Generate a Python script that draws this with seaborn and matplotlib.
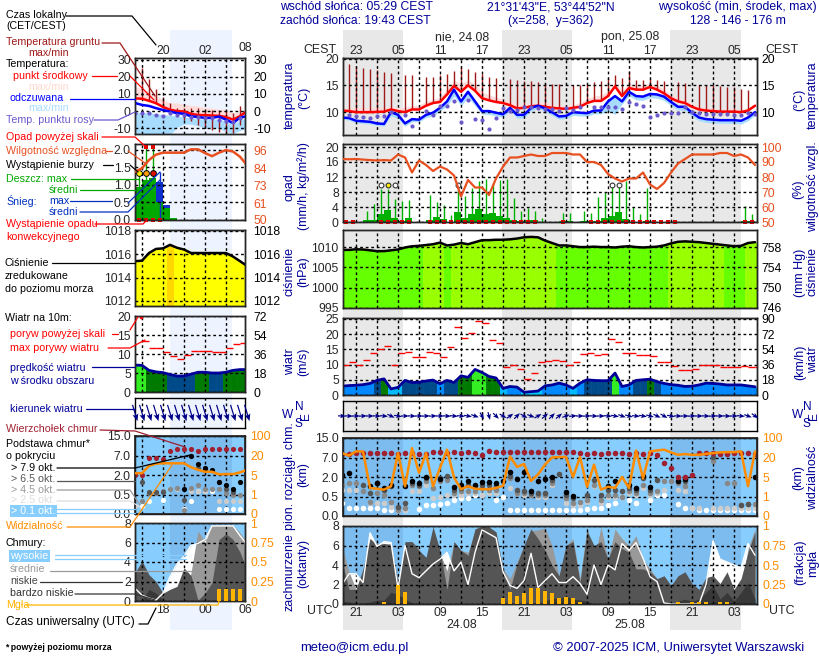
#!/usr/bin/env python3
"""UM meteogram (ICM) recreated with seaborn line and scatter layers."""

import matplotlib
matplotlib.use("Agg")
import matplotlib.pyplot as plt
import numpy as np
import seaborn as sns

n = np.nan

# hours are UTC counted from 00 on 23.08
HOURS_L = np.arange(14, 31)
HOURS_R = np.arange(19, 79)
NIGHT_L = [(19.0, 27.86)]
NIGHT_R = [(19.14, 27.71), (41.85, 51.85), (65.85, 76.0)]

# right column, temperature
RED_MID = [10.3, 10.2, 10.0, 10.0, 10.0, 10.05, 10.1, 10.5, 10.2, 10.0, 10.5, 10.5, 11.2, 11.7, 11.9,
           13.3, 14.9, 13.8, 15.0, 14.0, 12.6, 12.2, 11.9, 11.7, 11.3, 10.7, 10.8, 11.1, 11.2, 11.0,
           10.8, 10.7, 10.6, 10.8, 11.0, 11.7, 12.1, 12.1, 13.0, 14.8, 13.0, 14.5, 14.2, 14.2, 14.7,
           14.2, 13.5, 12.6, 12.0, 11.7, 11.0, 10.5, 10.3, 10.2, 10.1, 10.1, 10.1, 10.0, 10.3, 11.2]
FELT = [9.0, 8.9, 8.4, 8.3, 8.2, 7.9, 7.8, 10.0, 9.5, 7.9, 8.7, 8.6, 9.5, 9.9, 10.8,
        12.0, 14.2, 12.0, 13.8, 12.0, 10.2, 10.2, 9.9, 9.6, 10.8, 9.5, 9.5, 10.8, 11.2, 10.7,
        10.0, 9.2, 9.3, 10.0, 9.9, 9.8, 10.3, 10.3, 12.0, 13.0, 12.0, 13.8, 13.0, 12.9, 13.4,
        13.3, 12.9, 11.9, 11.0, 11.0, 9.9, 9.0, 8.7, 8.6, 8.5, 8.5, 8.5, 8.4, 9.0, 10.0]
RED_TOP = [10.8, 10.8, 10.8, 10.8, 10.8, 10.9, 10.9, 11.0, 10.9, 10.9, 11.2, 11.3, 12.0, 12.4, 12.8,
           14.4, 15.9, 15.3, 16.0, 15.2, 13.8, 13.2, 12.8, 12.4, 12.0, 11.4, 11.4, 11.6, 11.8, 11.8,
           11.4, 11.3, 11.2, 11.4, 11.8, 12.5, 13.0, 13.2, 14.0, 15.5, 14.0, 15.4, 15.0, 15.0, 15.4,
           15.0, 14.3, 13.3, 12.6, 12.3, 11.6, 11.1, 10.8, 10.7, 10.6, 10.6, 10.6, 10.5, 10.8, 11.6]
FELT_LOW = [8.7, 8.5, 8.0, 7.9, 7.8, 7.5, 7.4, 9.3, 8.8, 7.4, 8.2, 8.2, 9.0, 9.3, 10.2,
            11.2, 13.0, 11.2, 12.8, 11.2, 9.6, 9.6, 9.3, 9.1, 10.2, 8.9, 8.9, 10.2, 10.7, 10.1,
            9.4, 8.7, 8.8, 9.4, 9.3, 9.2, 9.7, 9.7, 10.2, 9.6, 11.5, 13.0, 12.3, 12.2, 12.7,
            12.6, 12.2, 11.2, 10.4, 10.3, 9.2, 8.4, 8.1, 8.0, 7.9, 7.9, 7.9, 7.8, 8.4, 9.4]
GROUND_MAX = [n, 19, 18.6, 18.2, 18, 17.8, 17.5, 17.3, n, 17, 17, n, 16.6, 16.6, 16.9,
              17.1, 17.6, 18.4, 18, 17.4, 17.1, 16.6, 16.4, n, 16.2, 16, 15.9, 15.8, 15.7, 15.5,
              15.3, 15.3, n, 15.1, 15.1, 15.2, 15.6, 15.9, 16.4, 17, 16.3, 17.6, 16, 16, 16.1,
              16, 15.8, n, 15.6, 15.4, n, 15.1, 15, 15, 14.8, 14.7, 14.6, 14.4, 14.2, n]
DEW = [n, 9.5, 9.2, 9.1, 8.9, 9.2, 9.3, 10.1, n, 9.4, 7.5, n, 10.3, 9.4, 11.2,
       11.1, 12, 8.2, 12.2, 8.8, 8.5, 6.8, 9, 10.7, 10.3, 10.4, 10.9, 10.9, 10.7, 10.5,
       10.5, 10.3, 10.7, 10.4, 10.9, n, 11, 11, 10.9, 10.9, 10.5, 11.9, 11.6, 11.2, 9.1,
       9.4, 9.8, 9.8, 9.8, 10.9, 10.1, 9.8, 9.7, 9.6, 9.6, 9.6, 9.5, 9.4, 9.8, 9.6]

# right column, rain and humidity
HUMID = [92, 91.8, 92, 91.6, 91.3, 91, 91.3, 91, 95, 93, 83, 91, 88, 84, 87,
         85, 81, 67, 78, 73, 73, 68, 79, 87, 93, 93, 94, 95, 94, 94,
         96, 96, 96, 95, 95, 90, 90, 88, 82, 79, 77, 79, 79, 83, 75,
         72, 76, 83, 89, 92, 95, 95, 95, 95, 96, 96, 94, 95, 93, 88]
RAIN_MAX = [0, 0, 0, 2.9, 4.7, 8.7, 8.9, 6.2, 5.7, 6, 0, 0, 7.3, 5.3, 4.6,
            2, 8.8, 7, 9, 11, 11.5, 10.5, 11.2, 11.5, 6.4, 3, 3.7, 3, 1.2, 0,
            0, 2.3, 2.5, 0, 3, 2.3, 6.8, 8, 9.5, 9.4, 11, 4, 2.2, 9, 0.4,
            0.3, 0, 0, 0, 0, 0, 0, 0, 0, 0, 0, 0, 4.4, 2.2, 0]
RAIN_MEAN = [0, 0, 0, 0.5, 0.5, 2.2, 3.2, 1, 0.3, 1.1, 0, 0, 0.5, 1.4, 0.8,
             0.1, 2.8, 1, 2.2, 3.6, 2.2, 2.5, 1.7, 1, 0.6, 0.3, 0.6, 0.6, 0.1, 0,
             0, 0.2, 0.3, 0, 0.3, 0.4, 0.2, 1, 1.5, 2.8, 0.8, 0.1, 0.1, 0.2, 0,
             0, 0, 0, 0, 0, 0, 0, 0, 0, 0, 0, 0, 0.3, 0.3, 0]
CONV_HOURS = [19, 20, 24, 25, 26, 27, 28, 31, 32, 33, 34, 35, 36, 37, 38, 39, 40, 41, 42, 43, 44, 45, 46,
              50, 54, 55, 56, 57, 58, 59, 60, 61, 62, 63, 64, 65, 66, 76, 77]
STORM_HOURS = [24, 26, 35, 57, 58]
STORM_HOURS_STRONG = [25]

# right column, pressure, wind
PRESSURE = [1009.3, 1009.3, 1009.45, 1009.4, 1009.2, 1009, 1009, 1009.2, 1009.4, 1009.9, 1010.2, 1010.3, 1010.5, 1010.7, 1011.1,
            1010.4, 1010.6, 1011, 1010.7, 1011.2, 1011.7, 1011.7, 1011.8, 1011.8, 1011.9, 1012.1, 1012.4, 1012.5, 1012.4, 1011.6,
            1011, 1010.4, 1010.4, 1010.2, 1010, 1010, 1010.1, 1010, 1010, 1009.9, 1010.1, 1010.2, 1010, 1009.9, 1010,
            1010.1, 1010.4, 1010.9, 1011.3, 1011.4, 1011.3, 1011.2, 1011, 1010.8, 1010.6, 1010.4, 1010.2, 1010.3, 1011, 1011.2]
WIND = [2.9, 3.1, 3.2, 3.4, 3.8, 4.8, 5.3, 2, 2.5, 4.8, 4.1, 4.2, 4.6, 4.9, 3.7,
        4.8, 4.1, 6.3, 5.8, 8.4, 7.4, 6.1, 5.6, 2.2, 2.8, 2.6, 0.9, 1.1, 1.3, 3,
        3.3, 3.9, 3.3, 2.2, 3.9, 5, 4.8, 4.7, 4.7, 7.2, 2.8, 3.3, 4.8, 5, 5.2,
        4.4, 3.8, 3.4, 3.2, 2.8, 2.9, 3.3, 3.9, 3.8, 3.6, 3.3, 3.3, 3.3, 3, 2.7]
GUST = [10, 10.7, 10, 11.4, 13.7, 15, 16, 9.8, 13.8, 14.1, 12.4, 12.4, 14.1, 13.7, 12.4,
        15.8, 22.3, 18.6, 20.3, 24.2, 23.5, 18.1, 17.2, 9.1, 9.8, 8.4, 5.4, 7.1, 10.7, 11.1,
        11.5, 11.3, 10, 10.8, 13.4, 13.7, 13, 13.4, 18.4, 17.3, 13.9, 13.9, 13, 13, 12.7,
        10.8, 10.8, 9.4, 8.1, 8.1, 8.4, 9.8, 10, 9.7, 9.2, 9.2, 9.2, 9.5, 9.2, 9.2]
WIND_DIR = [92, 92, 90, 88, 90, 92, 95, 115, 100, 90, 92, 90, 88, 88, 90,
            92, 95, 95, 100, 110, 150, 165, 135, 120, 55, 45, 120, 110, 60, 50,
            45, 50, 70, 85, 90, 88, 92, 90, 95, 100, 110, 105, 95, 100, 105,
            115, 120, 100, 92, 90, 88, 90, 92, 88, 90, 92, 90, 95, 110, 125]

# right column, cloud base / top in km, visibility in km
TOPS = [8.5, 8.6, 8.9, 8.7, 8.9, 8.9, 8.8, 8.7, 8.6, 8.7, 8.8, 8.6, 8.6, 9.1, 9.1,
        9, 9.1, 9, 9.1, 8.8, 8, 9.6, 9.3, 9.3, 9.3, 9.3, 9.3, 9.3, 9.3, 9.3,
        9.2, 9.3, 9.3, 9.1, 9, 8.3, 8.7, 8.6, 8.8, 8.8, 8.8, 8.6, 8.7, 8.6, 8.7,
        8, 5.6, 4.3, 2, 2, 2.4, 8.7, 9, 8.8, 8.6, 8.5, 8.7, 8.7, 8.7, 8.6]
BASE_79 = [2.5, 3, n, n, 1.3, 1.55, 1.15, 1.4, n, 1.3, 1.7, 1.55, 2, n, 1.85,
           n, 1.2, 1.4, 1.7, 1.4, 1.6, 1.6, 1.55, 1.7, 3.3, 1.85, 3.3, 0.9, 1.7, 1.85,
           2, n, 0.85, 0.55, n, n, n, n, 1.3, 1.68, n, 1.42, 1.16, 2.2, 1.2,
           n, n, n, 1.68, 1.85, n, n, n, n, n, n, n, n, n, 2]
BASE_65 = [n, n, n, 1.42, 0.76, 1.55, 1.03, 1.3, 0.24, 0.33, 1.55, 1.42, 1.95, n, 1.95,
           2.2, 1.03, 1.16, 1.42, 1.3, 1.42, 1.42, 1.3, n, 2.2, 1.03, 0.9, 0.76, 0.76, 0.76,
           1.8, 2.8, 0.63, 0.46, n, 0.63, 1.8, 0.63, 1.03, 1.03, 0.9, 1.16, 1.03, 1.95, 1.03,
           1.8, n, n, 1.68, 1.68, n, n, n, 7.4, n, n, n, 0.28, 0.3, n]
BASE_45 = [1.4, 1.55, 1.55, 0.9, 0.37, 0.76, 0.63, 0.37, 0.16, 0.2, 1.42, 1.3, 1.68, 1.16, 1.68,
           1.8, 0.76, 0.9, 0.9, 0.9, 1.16, 1.03, 1.03, n, 1.95, 0.76, 0.76, 0.63, 0.63, 0.63,
           1.55, n, 0.46, 0.33, 0.37, 0.42, 1.42, 0.42, 0.63, 0.63, 0.5, 0.9, 0.76, 1.42, 0.76,
           0.9, 1.68, 1.68, 1.55, 1.3, n, n, n, 6, n, 1.55, 1.55, 0.28, 0.3, 0.3]
BASE_25 = [1, 1, 1, n, 0.33, 0.33, 0.33, 0.24, 0.16, 0.16, 0.9, 0.9, 1.42, 0.46, 0.5,
           0.63, 0.63, 0.63, 0.76, 0.76, 0.63, 0.76, 0.76, n, 1.16, 0.76, 0.63, 0.63, 0.5, 0.5,
           1.4, n, 0.33, 0.28, 0.28, 0.37, 1.3, 0.33, 0.5, 0.5, 0.5, 0.76, 0.63, 1.16, 0.63,
           0.76, 1, n, 1, 0.9, 0.2, 0.2, n, 0.2, 0.2, 0.2, 0.2, 0.2, 0.2, 0.2]
BASE_01 = [0.33, 0.2, 0.2, 0.2, 0.2, 0.2, 0.16, 0.16, 0.16, 0.16, n, 0.18, 0.28, 0.28, 0.31,
           0.33, 0.42, 0.45, 0.45, 0.63, 0.63, 0.9, 0.4, 0.5, 0.16, 0.16, 0.16, 0.16, 0.16, 0.16,
           0.16, 0.16, 0.16, 0.16, 0.16, 0.18, 0.2, 0.2, 0.28, 0.33, 0.5, 0.42, 0.33, n, 0.4,
           0.63, 0.65, n, 0.3, 0.2, 0.2, 0.16, 0.16, 0.16, 0.16, 0.16, 0.16, 0.16, 0.16, 0.16]
VISIBILITY = [38, 28, 45, 45, 2.75, 2.6, 2.4, 3.1, 38, 3.1, 58, 8.25, 38, 3.1, 12,
              52, 4.9, 2.5, 3.1, 2.6, 2.5, 2.5, 2.75, 3.2, 24, 12.75, 15, 4.2, 7, 14.5,
              20, 22, 22, 5, 22, 3, 14.5, 2.4, 3, 2.75, 5, 2.75, 49, 4.7, 45,
              49, 52, 41, 31, 34, 31, 31, 35, 38, 41, 42, 42, 45, 3.1, 45]

# right column, cloud cover in octas and fog fraction
HIGH = [2, 3.1, 3.1, 2.2, 7.3, 5.9, 6.4, 6.3, 1.6, 6, 3.1, 2.7, 3.4, 4.1, 4.6,
        5.3, 3.4, 4.3, 2, 5.3, 7.6, 7.2, 6.8, 3.3, 1.9, 1.6, 2.4, 5.2, 1.7, 2.4,
        3.1, 2.2, 2.2, 2.8, 2.1, 1, 4, 2, 4, 3.5, 6.2, 5.5, 6.3, 4.7, 2.8,
        2.3, 0.1, 0, 0, 0, 0, 0, 2, 6.5, 4.6, 4.3, 4, 3.7, 6.2, 5]
MEDIUM = [5.9, 3.3, 1.5, 3.3, 6.7, 6.2, 6.2, 6.2, 2.2, 6.2, 6.4, 5.7, 3.6, 7.9, 5.2,
          3.4, 6.4, 5.5, 5.3, 7.5, 8, 8, 6.7, 3.6, 2.6, 4.3, 6, 7.5, 7.6, 7.8,
          6, 2.9, 6, 6.7, 2.6, 7.9, 4.6, 7.9, 4.6, 7.7, 6.7, 6, 7, 4.6, 3.6,
          2.6, 0.2, 0, 0, 0, 0, 0, 0, 0, 0, 0, 0, 1.5, 5.7, 7.7]
LOW = [4.3, 1.5, 1.5, 3.6, 6.7, 6, 6.2, 6, 2.2, 6.4, 6.4, 5.5, 4.8, 7.9, 5.5,
       1.5, 6.4, 5.5, 5, 7.7, 8, 7.9, 7.4, 3.6, 1.5, 4.1, 6, 7.7, 6.7, 5.5,
       4, 2.9, 6, 6.4, 2.2, 7.5, 6, 6.4, 4.6, 6.4, 5.7, 5.3, 3.6, 3.6, 3.3,
       2.6, 2.9, 1.9, 2.9, 3.3, 2.1, 1.5, 2.7, 2.9, 2.1, 3.3, 1.5, 2.6, 5.3, 7.4]
VERY_LOW = [0.3, 0.2, 0.1, 0.1, 0.2, 0.4, 0.4, 1.2, 1, 0.5, 0.1, 0, 0, 0, 0,
            0, 0, 0, 0, 0, 0, 0, 0, 0, 0, 0, 0, 0, 0, 0.3,
            0.6, 0.6, 0.8, 0.5, 0.4, 0.3, 0, 0, 0, 0, 0, 0, 0, 0, 0,
            0, 0, 0, 0.3, 0.5, 0.3, 0.5, 1.2, 1.9, 0.5, 1.2, 0.3, 1.2, 2.2, 0.5]
FOG = [0, 0, 0, 0, 0, 0, 0.03, 0, 0.24, 0.15, 0, 0, 0, 0, 0,
       0, 0, 0, 0, 0, 0, 0, 0, 0.08, 0.15, 0.1, 0.14, 0.21, 0.21, 0.17,
       0.14, 0.08, 0.09, 0.08, 0.03, 0, 0, 0, 0, 0, 0, 0, 0, 0, 0,
       0, 0, 0, 0.02, 0, 0.03, 0.03, 0.02, 0, 0.02, 0.02, 0, 0, 0, 0]

# left column
RED_MID_L = [7.4, 7.2, 6, 4.6, 2.4, 0.8, 0, -0.3, -1.6, -2.3, -2.4, -2.6, -2.8, -3.5, -5, -3, 0]
FELT_L = [4.7, 3.6, 3, 1.7, 0.6, -0.3, -1.2, -1.6, -3, -3.5, -4, -4, -3.2, -5, -7, -3.8, -3]
RED_TOP_L = [14.3, 13, 11.3, 8.7, 6.8, 4.8, 4.8, 4, 3.4, 3, 2, 1.7, 1, 1, -1, -0.6, 0]
FELT_TOP_L = [-0.5, -1, -1, -1.5, -2, -2.5, -3, -3.5, -4, -4.5, -5, -5, -5, -6, -8, -5, -4]
FELT_LOW_L = [-14, -14, -14, -14, -14, -14, -9.5, -7.6, -7.6, -8.6, -10, -10, -10, -12, -13, -11.4, -10]
GROUND_MAX_L = [n, 25, 19, 13, 8, 5, 2, 2, 2, 1.5, 0.5, 0.5, 0.5, 0, -1.3, 3, n]
GROUND_MIN_L = [n, 7, 6, 4, 2, -1, -2, -5, -6, -8, -10, -11, -12, -13, -13, -8, n]
DEW_L = [-1.4, -1.4, -1.4, -2.4, -3, -1.4, -2.4, -2.4, -3.3, -3.7, -4.3, -4.3, -5.2, -5.6, -6.2, -4.3, n]
HUMID_L = [81.8, 84, 89.5, 93, 94.3, 94.3, 94.3, 94.3, 96.5, 96.5, 94, 92, 94.3, 96, 95, 91.6, 86]
RAIN_MEAN_L = [0.95, 1.15, 1.2, 0.52, 0.33, 0.05, 0, 0, 0, 0, 0, 0, 0, 0, 0, 0, 0]
SNOW_MEAN_L = [0, 0, 0, 1.09, 0.43, 0, 0, 0, 0, 0, 0, 0, 0, 0, 0, 0, 0]
RAIN_MAX_L = [1.33, 2.2, 2.2, n, n, n, n, n, n, n, n, n, n, n, n, n, n]
SNOW_MAX_L = [n, n, n, 1.38, n, n, n, n, n, n, n, n, n, n, n, n, n]
OVER_SCALE_L = [14, 15, 16]
PRESSURE_L = [1015.4, 1015.45, 1016.1, 1016.45, 1016.5, 1016.8, 1016.55, 1016.4, 1016.1, 1016.1, 1016.1, 1016.1, 1016.1, 1016.1,
              1015.8, 1015.4, 1015.0]
WIND_L = [7.1, 7, 5.7, 5.3, 5.1, 4.6, 4.2, 4.2, 4.7, 5.2, 5.2, 5, 5, 5.2, 5.7, 5.9, 5.9]
GUST_L = [n, 13.5, 11.7, 11.5, 10.6, 9.6, 8.8, 9.8, 10.8, 10.9, 10.8, 10.6, 10.6, 11.6, 12.7, 13, n]
WIND_DIR_L = [163, 163, 163, 163, 163, 163, 163, 163, 163, 163, 163, 163, 163, 163, 163, 163, 163]
TOPS_L = [2, 2, 6.4, 6.4, 6, 8.8, 9.7, 9.7, 9.7, 8.8, 9.7, 9.7, 9.7, 9.7, 9.7, 9.7, 9.7]
BASE_79_L = [n, n, n, n, n, n, n, 0.9, 7, 4.7, 3.9, 3.3, 1.5, 1.25, 0.9, 1.5, n]
BASE_65_L = [n, 1.5, 0.7, 0.7, 0.7, n, n, 0.36, n, 3.8, 3.4, n, 1.5, 0.9, 0.7, n, n]
BASE_45_L = [n, 0.33, 0.6, 0.6, 0.8, 0.9, 1, 0.1, 1, 1.2, 0.9, 0.9, 0.9, 0.6, 0.5, 0.5, 0.9]
BASE_25_L = [0.2, n, n, n, n, 0.9, 0.9, n, 0.8, 0.8, 0.8, n, 0.33, 0.33, 0.33, 0.33, n]
BASE_01_L = [n, 0.2, 0.33, n, 0.36, n, n, 0.12, 0.33, 0.8, 0.8, 0.8, 0.12, 0.12, 0.12, 0.12, n]
VISIBILITY_L = [6.4, 6.4, 12, 13.7, 14, 14, 14, 14, 11, 9, 7.5, 7.5, 5.5, 5.7, 5.7, 7, 9]
HIGH_L = [1.3, 0.6, 0.3, 0.1, 0.8, 2.5, 3.8, 4.6, 5.7, 5.9, 6.3, 7.7, 7.7, 7.7, 7.7, 6.7, 5.8]
MEDIUM_L = [0, 0, 0, 0, 0, 0, 0, 0, 2.9, 7.2, 6, 7.8, 7.8, 7.8, 7.8, 7, 6]
LOW_L = [2.9, 4.1, 2.7, 2, 0.8, 1.2, 1.5, 3.4, 2.6, 0.1, 0.8, 1.9, 6.3, 6.9, 6.3, 5, 3.2]
VERY_LOW_L = [0, 0.1, 1.2, 0.8, 0.1, 0, 0, 0, 0, 0, 0, 0, 0, 0, 0, 0, 0]
FOG_L = [0, 0, 0, 0, 0, 0, 0, 0, 0, 0, 0, 0, 0.15, 0.15, 0.15, 0.15, 0]

NAVY = "#000099"
HUMID_COL = "#E85020"
VIS_COL = "#FF8C00"
SKY = "#87CEFF"
SKY_NIGHT = "#7CBCEE"
BASE_TICKS = [0, 0.5, 2, 7, 15]
VIS_TICKS = [0, 1, 5, 20, 100]
TICK_ROWS = [0, 1, 2, 3, 4]
TICK_SIZE = 8.7


def panel(fig, left, top, width, height):
    ax = fig.add_axes([left / 820, 1 - (top + height) / 660, width / 820, height / 660])
    ax.patch.set_alpha(0)
    for side in ax.spines.values():
        side.set_linewidth(1.0)
        side.set_color("black")
    ax.set_axisbelow(False)
    return ax


def set_grid(ax, xlim, hours, yticks, left_pad, ylabels=None):
    ax.set_xlim(*xlim)
    ax.set_xticks(hours)
    ax.set_xticklabels([])
    ax.set_yticks(yticks)
    if ylabels is not None:
        ax.set_yticklabels(ylabels)
    ax.grid(True, color="black", linestyle=(0, (2, 2)), linewidth=1.0)
    ax.tick_params(length=0, pad=left_pad, labelsize=TICK_SIZE)


def right_axis(ax, ylim, ticks, labels, color="black", pad=4):
    tw = ax.twinx()
    tw.patch.set_alpha(0)
    tw.set_ylim(*ylim)
    tw.set_yticks(ticks)
    tw.set_yticklabels(labels, color=color)
    tw.tick_params(length=0, pad=pad, labelsize=TICK_SIZE)
    for side in tw.spines.values():
        side.set_linewidth(1.0)
    return tw


def line(ax, x, y, color, width, z=4):
    sns.lineplot(x=np.asarray(x, float), y=np.asarray(y, float), ax=ax, color=color, linewidth=width,
                 zorder=z, legend=False, errorbar=None, estimator=None, sort=False)
    ax.set_xlabel("")
    ax.set_ylabel("")


def dots(ax, x, y, color, size=19, z=3, **kw):
    sns.scatterplot(x=np.asarray(x, float), y=np.asarray(y, float), ax=ax, color=color, s=size,
                    linewidth=0, zorder=z, legend=False, **kw)
    ax.set_xlabel("")
    ax.set_ylabel("")


def piece_fill(ax, hours, values, colors, base):
    # each hour gets its own colour, the top follows the line between hours
    for h, val, col in zip(hours, values, colors):
        xs = np.array([h - 0.5, h, h + 0.5])
        ax.fill_between(xs, base, np.interp(xs, hours, values), color=col, linewidth=0, zorder=1)


def wind_colour(speed):
    if speed < 1.6:
        return "#00CCFF"
    if speed < 2.6:
        return "#00BBFF"
    if speed < 4.0:
        return "#0088FF"
    if speed < 5.1:
        return "#004A8A"
    if speed < 7.0:
        return "#007A00"
    return "#33EE22"


def temp_panel(ax, hours, red, felt, red_top, felt_low, felt_top, gmax, gmin, dew, dotsize):
    hours = np.asarray(hours, float)
    ax.fill_between(hours, red, red_top, color="#FFDCDC", linewidth=0, zorder=1)
    ax.fill_between(hours, felt_low, felt_top, color="#A8DCFF", linewidth=0, zorder=1)
    ax.vlines(hours, gmin, gmax, color="#A01818", linewidth=1.0, zorder=2)
    line(ax, hours, red, "#FF0000", 1.8)
    line(ax, hours, felt, "#0000FF", 1.8)
    dots(ax, hours, dew, "#6A5ACD", size=dotsize, z=5)


def cloud_fill(ax, hours, high, medium, low, vlow, fog, bar_w):
    ax.fill_between(hours, 0, high, color="white", linewidth=0, zorder=1)
    ax.fill_between(hours, 0, medium, color="#999999", linewidth=0, zorder=1)
    ax.fill_between(hours, 0, low, color="#555555", linewidth=0, zorder=1)
    ax.fill_between(hours, 0, vlow, color="#383838", linewidth=0, zorder=1)
    line(ax, hours, high, "white", 1.0)
    tw = right_axis(ax, (0, 1), [0, 0.25, 0.5, 0.75, 1], ["0", "0.25", "0.5", "0.75", "1"], VIS_COL)
    tw.bar(hours, fog, width=bar_w, color="#FFB400", linewidth=0, zorder=3)
    tw.set_ylim(0, 1)


def base_panel(ax, hours, layers, vis, size):
    forward = lambda y: np.interp(y, BASE_TICKS, TICK_ROWS)
    inverse = lambda y: np.interp(y, TICK_ROWS, BASE_TICKS)
    ax.set_yscale("function", functions=(forward, inverse))
    ax.set_ylim(0, 15)
    ax.set_yticks(BASE_TICKS)
    ax.set_yticklabels(["0.0", "0.5", "2.0", "7.0", "15.0"])
    for vals, col in layers:
        dots(ax, hours, vals, col, size=size, z=3)
    ax.set_ylim(0, 15)
    ax.set_yticks(BASE_TICKS)
    ax.set_yticklabels(["0.0", "0.5", "2.0", "7.0", "15.0"])
    tw = ax.twinx()
    tw.patch.set_alpha(0)
    forward_v = lambda y: np.interp(y, VIS_TICKS, TICK_ROWS)
    inverse_v = lambda y: np.interp(y, TICK_ROWS, VIS_TICKS)
    tw.set_yscale("function", functions=(forward_v, inverse_v))
    line(tw, hours, vis, VIS_COL, 1.8, z=4)
    tw.set_ylim(0, 100)
    tw.set_yticks(VIS_TICKS)
    tw.set_yticklabels(["0", "1", "5", "20", "100"], color=VIS_COL)
    tw.tick_params(length=0, pad=4, labelsize=TICK_SIZE)
    tw.minorticks_off()
    ax.minorticks_off()


def arrows(ax, hours, directions, length, head):
    rad = np.deg2rad(directions)
    ax.quiver(hours, np.zeros(len(hours)), length * np.sin(rad), length * np.cos(rad), angles="uv",
              scale_units="dots", scale=1, units="dots", width=1.2, headwidth=head, headlength=head + 1,
              headaxislength=head, pivot="mid", color="#000088", clip_on=False, zorder=4)
    ax.set_ylim(-1, 1)


def draw_left(fig, hours):
    xlim = (14, 29.71)
    grid = [15, 18, 21, 24, 27]
    tops = [58, 144, 230, 316, 398, 436, 523]
    heights = [76, 76, 76, 76, 30, 78, 78]
    axes = [panel(fig, 135, t, 110, h) for t, h in zip(tops, heights)]

    ax = axes[0]
    set_grid(ax, xlim, grid, [-10, 0, 10, 20, 30], 3)
    temp_panel(ax, hours, RED_MID_L, FELT_L, RED_TOP_L, FELT_LOW_L, FELT_TOP_L, GROUND_MAX_L, GROUND_MIN_L, DEW_L, 9)
    ax.set_ylim(-13.4, 31)
    ax.set_yticks([-10, 0, 10, 20, 30])
    right_axis(ax, ax.get_ylim(), [-10, 0, 10, 20, 30], ["-10", "0", "10", "20", "30"], pad=6)
    ax.xaxis.tick_top()
    ax.set_xticks(grid)
    ax.set_xticklabels(["", "20", "", "02", ""])
    ax.tick_params(axis="x", pad=1)

    ax = axes[1]
    set_grid(ax, xlim, grid, [0, 0.5, 1, 1.5, 2], 3, ["0.0", "0.5", "1.0", "1.5", "2.0"])
    ax.bar(hours + 0.5, SNOW_MEAN_L, width=1, color="#1030D0", linewidth=0, zorder=1)
    ax.bar(hours + 0.5, RAIN_MEAN_L, width=1, color="#00A800", linewidth=0, zorder=1.2)
    ax.vlines(hours + 0.5, 0, RAIN_MAX_L, color="#00A800", linewidth=1.0, zorder=2)
    ax.vlines(hours + 0.5, 0, SNOW_MAX_L, color="#1030D0", linewidth=1.0, zorder=2)
    dots(ax, np.array(OVER_SCALE_L[1:]) + 0.5, [2.08, 2.08], "#E00000", size=11, z=5, marker="s")
    dots(ax, np.array(OVER_SCALE_L) + 0.5, [1.33, 1.33, 1.33], "#000000", size=24, z=5)
    dots(ax, [14.5], [1.33], "#FFF000", size=12, z=6)
    dots(ax, [15.5], [1.33], "#FFA000", size=12, z=6)
    dots(ax, [16.5], [1.33], "#E01000", size=12, z=6)
    dots(ax, np.array([14, 15, 16, 17]) + 0.5, [0, 0, 0, 0], "#E00000", size=5, z=5, marker="s", clip_on=False)
    ax.set_ylim(0, 2.17)
    tw = right_axis(ax, (50, 100), [50, 61, 73, 84, 96], ["50", "61", "73", "84", "96"], HUMID_COL, pad=6)
    line(tw, hours, HUMID_L, HUMID_COL, 1.8)
    tw.set_ylim(50, 100)

    ax = axes[2]
    set_grid(ax, xlim, grid, [1012, 1014, 1016, 1018], 3)
    colours = ["#FFD800" if p > 1016.7 else "#FFFF00" for p in PRESSURE_L]
    piece_fill(ax, hours, PRESSURE_L, colours, 1011.57)
    line(ax, hours, PRESSURE_L, "black", 1.8)
    ax.set_ylim(1011.57, 1018.07)
    right_axis(ax, ax.get_ylim(), [1012, 1014, 1016, 1018], ["1012", "1014", "1016", "1018"], pad=6)

    ax = axes[3]
    set_grid(ax, xlim, grid, [0, 5, 10, 15, 20], 3)
    piece_fill(ax, hours, WIND_L, [wind_colour(s) for s in WIND_L], 0)
    line(ax, hours, WIND_L, "#000099", 2.0)
    ax.hlines(GUST_L, hours, hours + 1, color="#FF0000", linewidth=1.0, zorder=4)
    dots(ax, [14.8], [19.7], "#FF0000", size=7, z=5)
    ax.set_ylim(0, 20)
    right_axis(ax, (0, 72), [0, 18, 36, 54, 72], ["0", "18", "36", "54", "72"], pad=6)

    ax = axes[4]
    set_grid(ax, xlim, grid, [], 3)
    arrows(ax, hours, WIND_DIR_L, 17, 5)

    ax = axes[5]
    set_grid(ax, xlim, grid, BASE_TICKS, 3)
    ax.axvspan(*xlim, color=SKY, linewidth=0, zorder=0)
    ax.axvspan(*NIGHT_L[0], color=SKY_NIGHT, linewidth=0, zorder=0.1)
    layers = [(BASE_01_L, "white"), (BASE_25_L, "#CCCCCC"), (BASE_45_L, "#888888"), (BASE_65_L, "#555555"),
              (BASE_79_L, "black"), (TOPS_L, "#A02030")]
    base_panel(ax, hours, layers, VISIBILITY_L, 14)

    ax = axes[6]
    set_grid(ax, xlim, grid, [0, 2, 4, 6, 8], 3)
    ax.axvspan(*xlim, color=SKY, linewidth=0, zorder=0)
    ax.axvspan(*NIGHT_L[0], color=SKY_NIGHT, linewidth=0, zorder=0.1)
    cloud_fill(ax, hours, HIGH_L, MEDIUM_L, LOW_L, VERY_LOW_L, FOG_L, 0.45)
    ax.set_ylim(0, 8)
    ax.set_xticks(grid)
    ax.set_xticklabels(["", "18", "", "00", ""])
    ax.tick_params(axis="x", pad=2)


def draw_right(fig, hours):
    xlim = (19.14, 78.28)
    grid = np.arange(21, 78, 3)
    tops = [58, 144, 230, 318, 401, 438, 526]
    heights = [77, 78, 78, 77, 30, 78, 78]
    axes = [panel(fig, 343, t, 414, h) for t, h in zip(tops, heights)]

    ax = axes[0]
    set_grid(ax, xlim, grid, [10, 15, 20], 3)
    temp_panel(ax, hours, RED_MID, FELT, RED_TOP, FELT_LOW, FELT, GROUND_MAX, RED_MID, DEW, 9)
    ax.set_ylim(5.74, 20.1)
    ax.set_yticks([10, 15, 20])
    right_axis(ax, ax.get_ylim(), [10, 15, 20], ["10", "15", "20"], pad=3)
    ax.xaxis.tick_top()
    ax.set_xticks(grid)
    ax.set_xticklabels([f"{(h + 2) % 24:02d}" if i % 2 == 0 else "" for i, h in enumerate(grid)])
    ax.tick_params(axis="x", pad=0.5)

    ax = axes[1]
    set_grid(ax, xlim, grid, [0, 4, 8, 12, 16, 20], 3)
    ax.bar(hours + 0.5, RAIN_MEAN, width=1, color="#00B000", linewidth=0, zorder=1)
    ax.vlines(hours + 0.5, 0, RAIN_MAX, color="#00B000", linewidth=1.0, zorder=2)
    dots(ax, np.array(CONV_HOURS) + 0.5, np.zeros(len(CONV_HOURS)), "#E00000", size=7, z=5, marker="s", clip_on=False)
    dots(ax, np.array(STORM_HOURS) + 0.5, np.full(len(STORM_HOURS), 10.0), "white", size=12, z=6,
         edgecolor="#333333")
    dots(ax, np.array(STORM_HOURS_STRONG) + 0.5, [10.0], "#FFF000", size=12, z=6, edgecolor="#333333")
    ax.collections[-1].set_linewidth(0.8)
    ax.collections[-2].set_linewidth(0.8)
    ax.set_ylim(0, 20.8)
    tw = right_axis(ax, (50, 102), [50, 60, 70, 80, 90, 100], ["50", "60", "70", "80", "90", "100"], HUMID_COL, pad=3)
    line(tw, hours, HUMID, HUMID_COL, 1.6)
    tw.set_ylim(50, 102)

    ax = axes[2]
    set_grid(ax, xlim, grid, [995, 1000, 1005, 1010], 3)
    colours = ["#99FF00" if p > 1010.45 else "#66FF00" for p in PRESSURE]
    piece_fill(ax, hours, PRESSURE, colours, 995)
    line(ax, hours, PRESSURE, "black", 1.8)
    ax.set_ylim(995, 1014.2)
    right_axis(ax, (746, 746 + 19.2 * 0.8), [746, 750, 754, 758], ["746", "750", "754", "758"], pad=3)

    ax = axes[3]
    set_grid(ax, xlim, grid, [0, 5, 10, 15, 20, 25], 3)
    piece_fill(ax, hours, WIND, [wind_colour(s) for s in WIND], 0)
    line(ax, hours, WIND, "#000099", 2.0)
    ax.hlines(GUST, hours, hours + 1, color="#FF0000", linewidth=1.0, zorder=4)
    ax.set_ylim(0, 25.3)
    right_axis(ax, (0, 25.3 * 3.6), [0, 18, 36, 54, 72, 90], ["0", "18", "36", "54", "72", "90"], pad=3)

    ax = axes[4]
    set_grid(ax, xlim, grid, [], 3)
    arrows(ax, hours, WIND_DIR, 8, 4)

    ax = axes[5]
    set_grid(ax, xlim, grid, BASE_TICKS, 3)
    ax.axvspan(*xlim, color=SKY, linewidth=0, zorder=0)
    for span in NIGHT_R:
        ax.axvspan(*span, color=SKY_NIGHT, linewidth=0, zorder=0.1)
    layers = [(BASE_01, "white"), (BASE_25, "#CCCCCC"), (BASE_45, "#888888"), (BASE_65, "#555555"),
              (BASE_79, "black"), (TOPS, "#A02030")]
    base_panel(ax, hours, layers, VISIBILITY, 16)

    ax = axes[6]
    set_grid(ax, xlim, grid, [0, 2, 4, 6, 8], 3)
    ax.axvspan(*xlim, color=SKY, linewidth=0, zorder=0)
    for span in NIGHT_R:
        ax.axvspan(*span, color=SKY_NIGHT, linewidth=0, zorder=0.1)
    cloud_fill(ax, hours, HIGH, MEDIUM, LOW, VERY_LOW, FOG, 0.45)
    ax.set_ylim(0, 8)
    ax.set_xticks(grid)
    ax.set_xticklabels([f"{h % 24:02d}" if i % 2 == 0 else "" for i, h in enumerate(grid)])
    ax.tick_params(axis="x", pad=2)


def draw_backdrop(fig):
    bg = fig.add_axes([0, 0, 1, 1], zorder=-5)
    bg.set_xlim(0, 820)
    bg.set_ylim(660, 0)
    bg.axis("off")
    bg.fill_between([170, 232], 30, 630, color="#EEF4FF", linewidth=0)
    for x0, x1 in [(343, 403), (502, 572), (670, 741)]:
        bg.fill_between([x0, x1], 30, 630, color="#E8E8E8", linewidth=0)


LEGEND_TEXT = [
    ("Czas lokalny", 6, 15, "black"), ("(CET/CEST)", 6, 26, "black"),
    ("Temperatura gruntu", 6, 42, "#A01818"), ("max/min", 28, 53, "#A01818"),
    ("Temperatura:", 6, 64, "black"), ("punkt środkowy", 13, 76, "#FF0000"),
    ("max/min", 28, 87, "#FFD8D0"), ("odczuwana", 10, 98, "#0000FF"),
    ("max/min", 28, 108, "#A8DCFF"), ("Temp. punktu rosy", 6, 120, "#6A5ACD"),
    ("Opad powyżej skali", 6, 137, "#FF0000"), ("Wilgotność względna", 6, 151, HUMID_COL),
    ("Wystąpienie burzy", 6, 165, "black"), ("Deszcz: max", 6, 179, "#00A800"),
    ("średni", 49, 190, "#00A800"), ("Śnieg:", 6, 201, "#0030C0"), ("max", 49, 201, "#0030C0"),
    ("średni", 49, 212, "#0030C0"), ("Wystąpienie opadu", 6, 224, "#FF0000"),
    ("konwekcyjnego", 6, 237, "#FF0000"), ("Ciśnienie", 5, 263, "black"),
    ("zredukowane", 5, 276, "black"), ("do poziomu morza", 5, 289, "black"),
    ("Wiatr na 10m:", 5, 318, "black"), ("poryw powyżej skali", 10, 334, "#FF0000"),
    ("max porywy wiatru", 10, 348, "#FF0000"), ("prędkość wiatru", 10, 368, NAVY),
    ("w środku obszaru", 10, 381, NAVY), ("kierunek wiatru", 10, 409, NAVY),
    ("Wierzchołek chmur", 6, 429, "#A02030"), ("Podstawa chmur*", 6, 444, "black"),
    ("o pokryciu", 6, 456, "black"), ("> 7.9 okt.", 11, 468, "black"),
    ("> 6.5 okt.", 11, 479, "#555555"), ("> 4.5 okt.", 11, 490, "#999999"),
    ("> 2.5 okt.", 11, 500, "#DDDDDD"), ("Widzialność", 6, 526, VIS_COL),
    ("Chmury:", 6, 543, "black"), ("średnie", 10, 569, "#999999"), ("niskie", 10, 581, "#444444"),
    ("bardzo niskie", 10, 593, "#333333"), ("Mgła", 6, 605, "#FFB400"),
]
LEADERS = [
    ([66, 132, 156], [16, 16, 45], "black"),
    ([102, 120, 155], [43, 43, 96], "#A01818"),
    ([92, 117], [76, 76], "#FF0000"), ([130, 154], [76, 100], "#FF0000"),
    ([70, 135], [99, 99], "#0000FF"),
    ([94, 118, 135], [120, 120, 112], "#6A5ACD"),
    ([102, 135, 146], [137, 137, 147], "#FF0000"),
    ([106, 112], [151, 151], HUMID_COL), ([128, 145], [151, 163], HUMID_COL),
    ([103, 113], [165, 165], "black"), ([130, 138], [165, 172], "black"),
    ([71, 139], [179, 179], "#00A800"), ([80, 135], [190, 190], "#00A800"),
    ([70, 112], [201, 201], "#0030C0"), ([128, 160], [203, 172], "#0030C0"),
    ([80, 128, 160], [212, 212, 180], "#0030C0"),
    ([95, 143, 147], [224, 224, 220], "#FF0000"),
    ([52, 135], [263, 263], "black"),
    ([112, 118], [334, 334], "#FF0000"), ([130, 138], [330, 317], "#FF0000"),
    ([108, 130, 145], [348, 348, 340], "#FF0000"),
    ([92, 135], [367, 367], NAVY), ([86, 135], [409, 409], NAVY),
    ([100, 135, 185], [430, 431, 447], "#A02030"),
    ([57, 135, 190], [468, 468, 455], "black"),
    ([57, 135], [481, 481], "#555555"),
    ([57, 130, 140], [490, 490, 505], "#999999"),
    ([57, 130, 140], [501, 501, 507], "#DDDDDD"),
    ([55, 135], [509, 509], SKY), ([55, 135], [513, 513], SKY),
    ([67, 130, 172], [527, 527, 465], VIS_COL),
    ([55, 186], [555, 555], SKY), ([55, 186], [559, 559], SKY),
    ([50, 193], [571, 571], "#999999"),
    ([40, 122], [582, 582], "#333333"), ([130, 135], [582, 582], "#333333"),
    ([75, 135, 155], [594, 594, 600], "#333333"),
    ([26, 218, 220], [605, 605, 597], "#FFB400"),
    ([139, 148, 156], [624, 624, 608], "black"),
]
AXIS_TITLES = [
    ("temperatura", 290, 95), ("(°C)", 304, 98), ("temperatura", 813, 95), ("(°C)", 799, 100),
    ("opad", 290, 187), ("(mm/h, kg/m²/h)", 304, 186), ("wilgotność wzgl.", 813, 187), ("(%)", 798, 189),
    ("ciśnienie", 290, 272), ("(hPa)", 303, 272), ("ciśnienie", 813, 272), ("(mm Hg)", 800, 273),
    ("wiatr", 290, 362), ("(m/s)", 303, 362), ("wiatr", 813, 360), ("(km/h)", 800, 362),
    ("pion. rozciągł. chm.", 290, 476), ("(km)", 303, 475), ("widzialność", 813, 478), ("(km)", 798, 478),
    ("zachmurzenie", 290, 572), ("(oktanty)", 303, 563), ("mgła", 813, 563), ("(frakcja)", 800, 562),
]


def draw_text(fig):
    ov = fig.add_axes([0, 0, 1, 1], zorder=10)
    ov.set_xlim(0, 820)
    ov.set_ylim(660, 0)
    ov.axis("off")
    for xs, ys, col in LEADERS:
        ov.plot(xs, ys, color=col, linewidth=0.9)
    for txt, x, y, col in LEGEND_TEXT:
        ov.text(x, y, txt, color=col, fontsize=7.7, va="center", ha="left")
    ov.text(6, 622, "Czas uniwersalny (UTC)", color="black", fontsize=8.6, va="center", ha="left")
    ov.text(11, 511, "> 0.1 okt.", color="white", fontsize=7.7, va="center", ha="left",
            bbox=dict(facecolor=SKY, edgecolor="none", pad=1))
    ov.text(10, 556, "wysokie", color="white", fontsize=7.7, va="center", ha="left",
            bbox=dict(facecolor=SKY, edgecolor="none", pad=1))
    for txt, x, y in AXIS_TITLES:
        ov.text(x, y, txt, color=NAVY, fontsize=9.0, rotation=90, va="center", ha="center")

    # compass letters next to the wind direction strip
    for x_w, x_n, x_e in [(288, 299, 306), (798, 807, 814)]:
        ov.text(x_w, 415, "W", color=NAVY, fontsize=8.6, va="center", ha="center")
        ov.text(x_n, 407, "N", color=NAVY, fontsize=8.6, va="center", ha="center")
        ov.text(x_n - 1, 424, "S", color=NAVY, fontsize=8.6, va="center", ha="center")
        ov.text(x_e, 416, "E", color=NAVY, fontsize=8.6, va="center", ha="center", rotation=90)

    ov.text(280, 7, "wschód słońca: 05:29 CEST", color=NAVY, fontsize=8.7, va="center")
    ov.text(280, 21, "zachód słońca: 19:43 CEST", color=NAVY, fontsize=8.7, va="center")
    ov.text(551, 7, "21°31'43\"E, 53°44'52\"N", color=NAVY, fontsize=8.7, va="center", ha="center")
    ov.text(551, 21, "(x=258,  y=362)", color=NAVY, fontsize=8.7, va="center", ha="center")
    ov.text(817, 7, "wysokość (min, środek, max)", color=NAVY, fontsize=8.8, va="center", ha="right")
    ov.text(738, 21, "128 - 146 - 176 m", color=NAVY, fontsize=8.8, va="center", ha="center")

    ov.text(462, 37, "nie, 24.08", fontsize=8.9, va="center", ha="center")
    ov.text(630, 37, "pon, 25.08", fontsize=8.9, va="center", ha="center")
    ov.text(462, 625, "24.08", fontsize=8.9, va="center", ha="center")
    ov.text(630, 625, "25.08", fontsize=8.9, va="center", ha="center")
    ov.text(303, 50, "CEST", fontsize=8.9, va="center")
    ov.text(765, 50, "CEST", fontsize=8.9, va="center")
    ov.text(307, 611, "UTC", fontsize=8.9, va="center")
    ov.text(769, 611, "UTC", fontsize=8.9, va="center")
    ov.text(245, 48, "08", fontsize=TICK_SIZE, va="center", ha="center")
    ov.text(245, 610, "06", fontsize=TICK_SIZE, va="center", ha="center")

    ov.text(300, 648, "meteo@icm.edu.pl", color=NAVY, fontsize=9.4, va="center")
    ov.text(553, 648, "© 2007-2025 ICM, Uniwersytet Warszawski", color=NAVY, fontsize=9.4, va="center")
    ov.text(5, 647, "* powyżej poziomu morza", color="black", fontsize=6.3, weight="bold", va="center")


def main():
    sns.set_theme(style="white")
    plt.rcParams["font.family"] = ["Liberation Sans", "DejaVu Sans"]
    plt.rcParams["axes.unicode_minus"] = False
    fig = plt.figure(figsize=(8.2, 6.6), dpi=100, facecolor="white")
    draw_backdrop(fig)
    draw_left(fig, HOURS_L)
    draw_right(fig, HOURS_R)
    draw_text(fig)
    fig.savefig("out.png", dpi=100)


if __name__ == "__main__":
    main()
